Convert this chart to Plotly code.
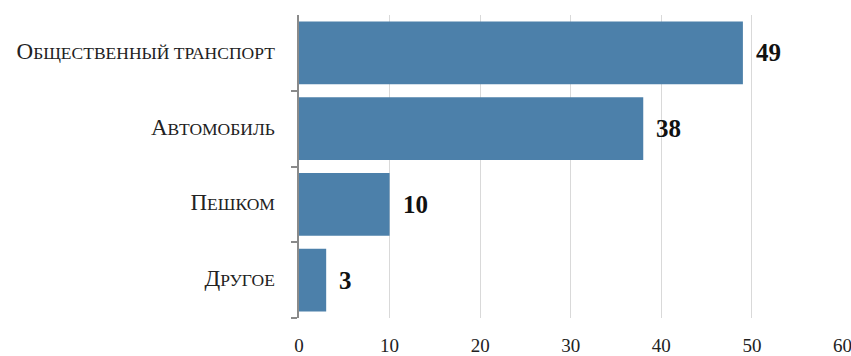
import plotly.graph_objects as go

# Survey: how people get around (share of respondents)
categories = ["Общественный транспорт", "Автомобиль", "Пешком", "Другое"]
values = [49, 38, 10, 3]
x_ticks = [0, 10, 20, 30, 40, 50, 60]

BAR_COLOR = "#4C80AA"
SERIF = "Liberation Serif, Times New Roman, serif"


def small_caps(label, big=23, small=17.5):
    """Render a label in small caps: first letter full size, rest reduced."""
    head, tail = label[0].upper(), label[1:].upper()
    return (f'<span style="font-size:{big}px">{head}</span>'
            f'<span style="font-size:{small}px">{tail}</span>')


tick_text = [small_caps(c) for c in categories]

fig = go.Figure()
fig.add_trace(go.Bar(
    x=values,
    y=categories,
    orientation="h",
    marker=dict(color=BAR_COLOR, line=dict(width=0)),
    width=0.83,
    hoverinfo="x+y",
))

# value labels to the right of each bar
for cat, val in zip(categories, values):
    fig.add_annotation(
        x=val, y=cat, text=f"<b>{val}</b>",
        xanchor="left", yanchor="middle", xshift=11, showarrow=False,
        font=dict(family=SERIF, size=25, color="#111111"),
    )

fig.update_layout(
    width=851, height=356,
    margin=dict(l=299, r=8, t=15, b=38),
    paper_bgcolor="white", plot_bgcolor="white",
    showlegend=False,
    bargap=0.17,
)

fig.update_xaxes(
    range=[0, 60.05],
    tickvals=x_ticks,
    ticktext=[str(t) for t in x_ticks],
    showgrid=True, gridcolor="#d9d9d9", gridwidth=1,
    zeroline=False, showline=False, ticks="",
    ticklabelstandoff=14,
    ticklabeloverflow="allow",
    automargin=False,
    tickfont=dict(family=SERIF, size=19, color="#222222"),
    fixedrange=True,
)

fig.update_yaxes(
    categoryorder="array",
    categoryarray=categories[::-1],
    tickvals=categories,
    ticktext=tick_text,
    tickson="boundaries",
    ticks="outside", ticklen=6, tickcolor="#8a8a8a", tickwidth=1.5,
    showline=True, linecolor="#8a8a8a", linewidth=1.5,
    showgrid=False, zeroline=False,
    ticklabelstandoff=19,
    automargin=False,
    tickfont=dict(family=SERIF, size=17, color="#222222"),
    fixedrange=True,
)

fig.write_html("out.html")
